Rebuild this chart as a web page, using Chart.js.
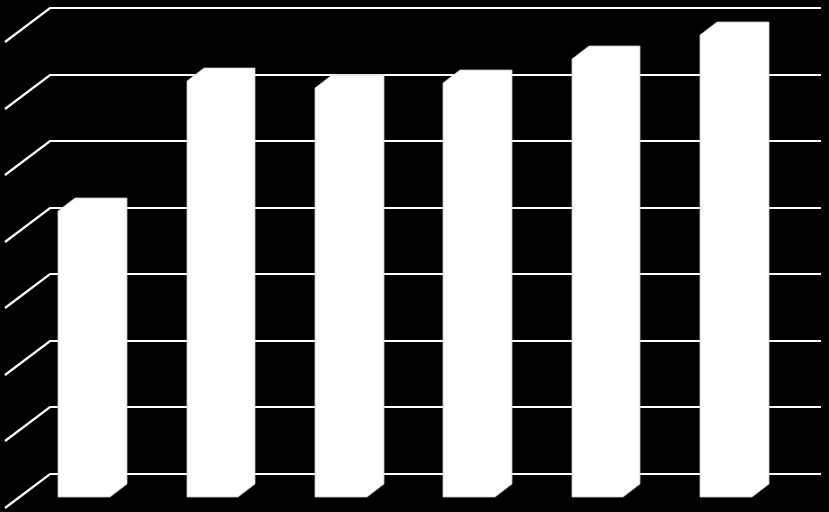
<!DOCTYPE html>
<html>
<head>
<meta charset="utf-8">
<script src="https://cdn.jsdelivr.net/npm/chart.js@4.4.1/dist/chart.umd.min.js"></script>
<style>
  html, body { margin: 0; padding: 0; background: #000; }
  #wrap { width: 829px; height: 512px; position: relative; }
</style>
</head>
<body>
<div id="wrap"><canvas id="bar-chart"></canvas></div>
<script>
// chart data
const categories = ["1", "2", "3", "4", "5", "6"];
const seriesValues = [43.0, 62.5, 61.5, 62.2, 65.8, 69.4];
const yTicks = [0, 10, 20, 30, 40, 50, 60, 70];

// 3D look: offset of the back wall and of the bar depth
const wallShift = { x: 30, y: -23 };
const sideWall = { x: 45, y: 34 };
const barDepth = { x: 17, y: 13 };

const wallPlugin = {
  id: "wall",
  beforeDatasetsDraw(chart) {
    const { ctx, chartArea, scales } = chart;
    ctx.save();
    ctx.strokeStyle = "#fff";
    ctx.lineWidth = 2.2;
    yTicks.forEach((v) => {
      const yb = Math.round(scales.y.getPixelForValue(v) + wallShift.y);
      const xb = Math.round(chartArea.left + wallShift.x);
      ctx.beginPath();
      ctx.moveTo(xb - sideWall.x, yb + sideWall.y);
      ctx.lineTo(xb, yb);
      ctx.lineTo(Math.round(chartArea.right + wallShift.x + 1), yb);
      ctx.stroke();
    });
    ctx.restore();
  },
};

const bar3dPlugin = {
  id: "bar3d",
  afterDatasetsDraw(chart) {
    const { ctx } = chart;
    const meta = chart.getDatasetMeta(0);
    ctx.save();
    meta.data.forEach((bar) => {
      const l = Math.round(bar.x - bar.width / 2);
      const r = Math.round(bar.x + bar.width / 2);
      const t = Math.round(bar.y);
      const b = Math.round(bar.base);
      ctx.beginPath();
      ctx.moveTo(l, b);
      ctx.lineTo(l, t);
      ctx.lineTo(l + barDepth.x, t - barDepth.y);
      ctx.lineTo(r + barDepth.x, t - barDepth.y);
      ctx.lineTo(r + barDepth.x, b - barDepth.y);
      ctx.lineTo(r, b);
      ctx.closePath();
      ctx.fillStyle = "#fff";
      ctx.fill();
      ctx.strokeStyle = "#c8c8c8";
      ctx.lineWidth = 0.8;
      ctx.lineJoin = "miter";
      ctx.stroke();
    });
    ctx.restore();
  },
};

const ctxBar = document.getElementById("bar-chart");

new Chart(ctxBar, {
  type: "bar",
  data: {
    labels: categories,
    datasets: [
      {
        label: "Series 1",
        data: seriesValues,
        backgroundColor: "rgba(0,0,0,0)",
        borderWidth: 0,
        categoryPercentage: 1,
        barPercentage: 0.405,
      },
    ],
  },
  options: {
    responsive: true,
    maintainAspectRatio: false,
    animation: false,
    layout: {
      padding: { top: 31, bottom: 15, left: 20, right: 39 },
    },
    scales: {
      x: { display: false },
      y: { display: false, min: 0, max: 70, ticks: { stepSize: 10 } },
    },
    plugins: {
      legend: { display: false },
      tooltip: { enabled: false },
    },
  },
  plugins: [wallPlugin, bar3dPlugin],
});
</script>
</body>
</html>
